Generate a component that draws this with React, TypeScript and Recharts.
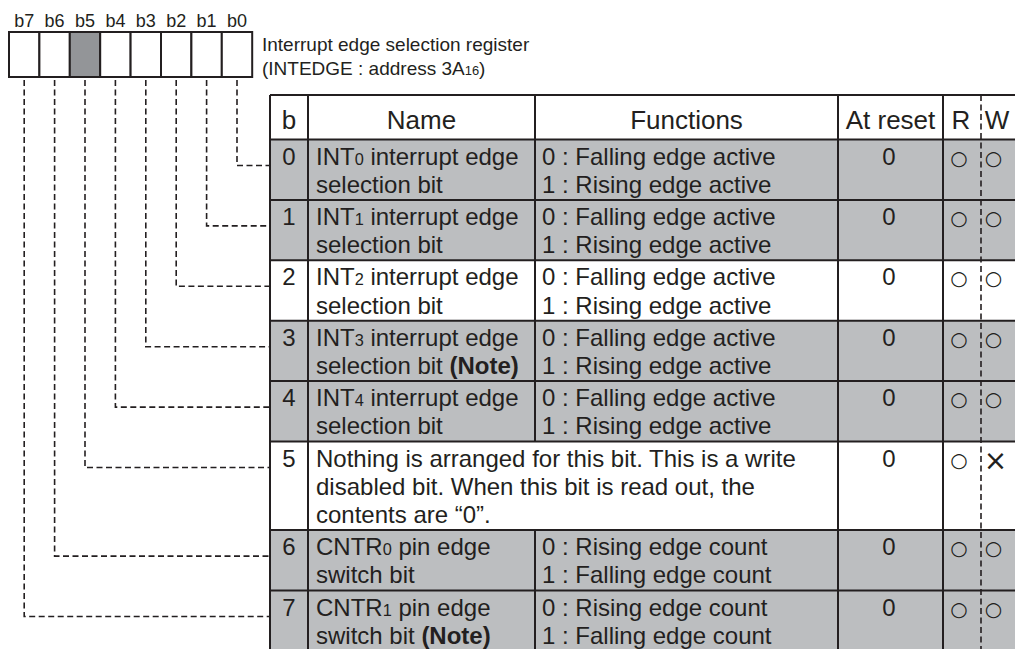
import React from 'react';
import { ComposedChart, XAxis, YAxis, Scatter, Line, ReferenceArea, ReferenceLine } from 'recharts';

// register content
const bitLabels = ['b7', 'b6', 'b5', 'b4', 'b3', 'b2', 'b1', 'b0'];
const unusedBits = ['b5'];
const titleLines = ['Interrupt edge selection register', '(INTEDGE : address 3A_16_)'];
const headers = ['b', 'Name', 'Functions', 'At reset', 'R', 'W'];
const bitNumbers = ['0', '1', '2', '3', '4', '5', '6', '7'];
const bitNames = [
  ['INT_0_ interrupt edge', 'selection bit'],
  ['INT_1_ interrupt edge', 'selection bit'],
  ['INT_2_ interrupt edge', 'selection bit'],
  ['INT_3_ interrupt edge', 'selection bit **(Note)**'],
  ['INT_4_ interrupt edge', 'selection bit'],
  ['Nothing is arranged for this bit. This is a write', 'disabled bit. When this bit is read out, the', 'contents are \u201c0\u201d.'],
  ['CNTR_0_ pin edge', 'switch bit'],
  ['CNTR_1_ pin edge', 'switch bit **(Note)**'],
];
const bitFunctions = [
  ['0 : Falling edge active', '1 : Rising edge active'],
  ['0 : Falling edge active', '1 : Rising edge active'],
  ['0 : Falling edge active', '1 : Rising edge active'],
  ['0 : Falling edge active', '1 : Rising edge active'],
  ['0 : Falling edge active', '1 : Rising edge active'],
  [],
  ['0 : Rising edge count', '1 : Falling edge count'],
  ['0 : Rising edge count', '1 : Falling edge count'],
];
const resetValues = ['0', '0', '0', '0', '0', '0', '0', '0'];
const readMarks = ['\u25cb', '\u25cb', '\u25cb', '\u25cb', '\u25cb', '\u25cb', '\u25cb', '\u25cb'];
const writeMarks = ['\u25cb', '\u25cb', '\u25cb', '\u25cb', '\u25cb', '\u00d7', '\u25cb', '\u25cb'];
const shadedRows = [true, true, false, true, true, false, true, true];

// layout
const W = 1015;
const H = 649;
const INK = '#231f20';
const SHADE = '#bcbec0';
const BOX_SHADE = '#939598';
const FONT = '"Liberation Sans", Arial, Helvetica, sans-serif';
const MARK_FONT = '"DejaVu Sans", sans-serif';

const BOX_LEFT = 9;
const BOX_W = 30.4;
const BOX_TOP = 32;
const BOX_BOTTOM = 77;
const TABLE_TOP = 95;
const HEADER_H = 44.5;
const LINE_H = 28.2;
const ROW_PAD = 4;
const COL = { left: 270, name: 308, func: 535, reset: 838, r: 943, w: 981, right: W };

const rowLines = bitNames.map((n, i) => Math.max(n.length, bitFunctions[i].length));
const rowTops: number[] = [];
let acc = TABLE_TOP + HEADER_H;
rowLines.forEach((l) => {
  rowTops.push(acc);
  acc += l * LINE_H + ROW_PAD;
});
const tableBottom = acc;
const boxCenter = (label: string) => BOX_LEFT + BOX_W * (bitLabels.indexOf(label) + 0.5);

type TextItem = { x: number; y: number; text: string; size: number; anchor: 'start' | 'middle'; font?: string };

const texts: TextItem[] = [];
bitLabels.forEach((b) => texts.push({ x: boxCenter(b), y: 27, text: b, size: 18, anchor: 'middle' }));
titleLines.forEach((t, i) => texts.push({ x: 262, y: 51 + i * 24, text: t, size: 19, anchor: 'start' }));
const headerX = [
  (COL.left + COL.name) / 2,
  (COL.name + COL.func) / 2,
  (COL.func + COL.reset) / 2,
  (COL.reset + COL.r) / 2,
  961,
  997,
];
headers.forEach((h, i) => texts.push({ x: headerX[i], y: TABLE_TOP + 33.5, text: h, size: 26, anchor: 'middle' }));
bitNumbers.forEach((n, i) => {
  const top = rowTops[i];
  const base = top + 25;
  texts.push({ x: (COL.left + COL.name) / 2, y: base, text: n, size: 24, anchor: 'middle' });
  bitNames[i].forEach((t, j) => texts.push({ x: COL.name + 8, y: base + j * LINE_H, text: t, size: 24, anchor: 'start' }));
  bitFunctions[i].forEach((t, j) => texts.push({ x: COL.func + 7, y: base + j * LINE_H, text: t, size: 24, anchor: 'start' }));
  texts.push({ x: 889, y: base, text: resetValues[i], size: 24, anchor: 'middle' });
  texts.push({ x: 959, y: top + 25, text: readMarks[i], size: 20, anchor: 'middle', font: MARK_FONT });
  const cross = writeMarks[i] === '\u00d7';
  texts.push({
    x: cross ? 995.5 : 993.5,
    y: top + (cross ? 28 : 25),
    text: writeMarks[i],
    size: cross ? 28 : 20,
    anchor: 'middle',
    font: MARK_FONT,
  });
});

type Seg = { x1: number; y1: number; x2: number; y2: number };
const solid: Seg[] = [];
[TABLE_TOP, TABLE_TOP + HEADER_H, ...rowTops.slice(1), tableBottom].forEach((y) =>
  solid.push({ x1: COL.left, y1: y, x2: COL.right, y2: y }),
);
[COL.left, COL.name, COL.reset, COL.r].forEach((x) => solid.push({ x1: x, y1: TABLE_TOP, x2: x, y2: H }));
solid.push({ x1: COL.func, y1: TABLE_TOP, x2: COL.func, y2: TABLE_TOP + HEADER_H });
rowTops.forEach((top, i) => {
  if (bitFunctions[i].length) solid.push({ x1: COL.func, y1: top, x2: COL.func, y2: top + rowLines[i] * LINE_H + ROW_PAD });
});

const connectors = bitNumbers.map((n, i) => {
  const x = boxCenter('b' + n);
  const y = rowTops[i] + 26;
  return [
    { x, y: BOX_BOTTOM + 3 },
    { x, y },
    { x: COL.left, y },
  ];
});

function rich(s: string, size: number) {
  return s
    .split(/(_[^_]+_|\*\*[^*]+\*\*)/)
    .filter(Boolean)
    .map((seg, i) => {
      if (seg.startsWith('**')) return <tspan key={i} fontWeight="bold">{seg.slice(2, -2)}</tspan>;
      if (seg.startsWith('_')) return <tspan key={i} fontSize={size * 0.68}>{seg.slice(1, -1)}</tspan>;
      return <tspan key={i} fontSize={size}>{seg}</tspan>;
    });
}

const TextMark = (props: any) => {
  const { cx, cy, payload } = props;
  return (
    <text
      x={cx}
      y={cy}
      fontSize={payload.size}
      textAnchor={payload.anchor}
      fill={INK}
      fontFamily={payload.font || FONT}
      style={{ whiteSpace: 'pre' }}
    >
      {rich(payload.text, payload.size)}
    </text>
  );
};

export default function App() {
  return (
    <div style={{ position: 'absolute', left: 0, top: 0, width: W, height: H, background: '#fff' }}>
      <ComposedChart width={W} height={H} margin={{ top: 0, right: 0, bottom: 0, left: 0 }}>
        <XAxis type="number" dataKey="x" domain={[0, W]} hide allowDataOverflow />
        <YAxis type="number" dataKey="y" domain={[0, H]} reversed hide allowDataOverflow />

        {rowTops.map((top, i) =>
          shadedRows[i] ? (
            <ReferenceArea
              key={'row' + i}
              x1={COL.left}
              x2={COL.right}
              y1={top}
              y2={Math.min(H, top + rowLines[i] * LINE_H + ROW_PAD)}
              fill={SHADE}
              fillOpacity={1}
              stroke="none"
              ifOverflow="visible"
            />
          ) : null,
        )}

        {bitLabels.map((b, i) => (
          <ReferenceArea
            key={b}
            x1={BOX_LEFT + i * BOX_W}
            x2={BOX_LEFT + (i + 1) * BOX_W}
            y1={BOX_TOP}
            y2={BOX_BOTTOM}
            fill={unusedBits.includes(b) ? BOX_SHADE : '#fff'}
            fillOpacity={1}
            stroke={INK}
            strokeWidth={2}
            ifOverflow="visible"
          />
        ))}

        {solid.map((s, i) => (
          <ReferenceLine
            key={'l' + i}
            segment={[{ x: s.x1, y: s.y1 }, { x: s.x2, y: s.y2 }]}
            stroke={INK}
            strokeWidth={2}
            ifOverflow="visible"
          />
        ))}
        <ReferenceLine
          segment={[{ x: COL.w, y: TABLE_TOP }, { x: COL.w, y: H }]}
          stroke={INK}
          strokeWidth={1.6}
          strokeDasharray="6 3.5"
          ifOverflow="visible"
        />

        {connectors.map((pts, i) => (
          <Line
            key={'c' + i}
            data={pts}
            dataKey="y"
            type="linear"
            stroke={INK}
            strokeWidth={1.6}
            strokeDasharray="6 3.5"
            dot={false}
            activeDot={false}
            isAnimationActive={false}
          />
        ))}

        <Scatter data={texts} dataKey="y" shape={TextMark} isAnimationActive={false} />
      </ComposedChart>
    </div>
  );
}
